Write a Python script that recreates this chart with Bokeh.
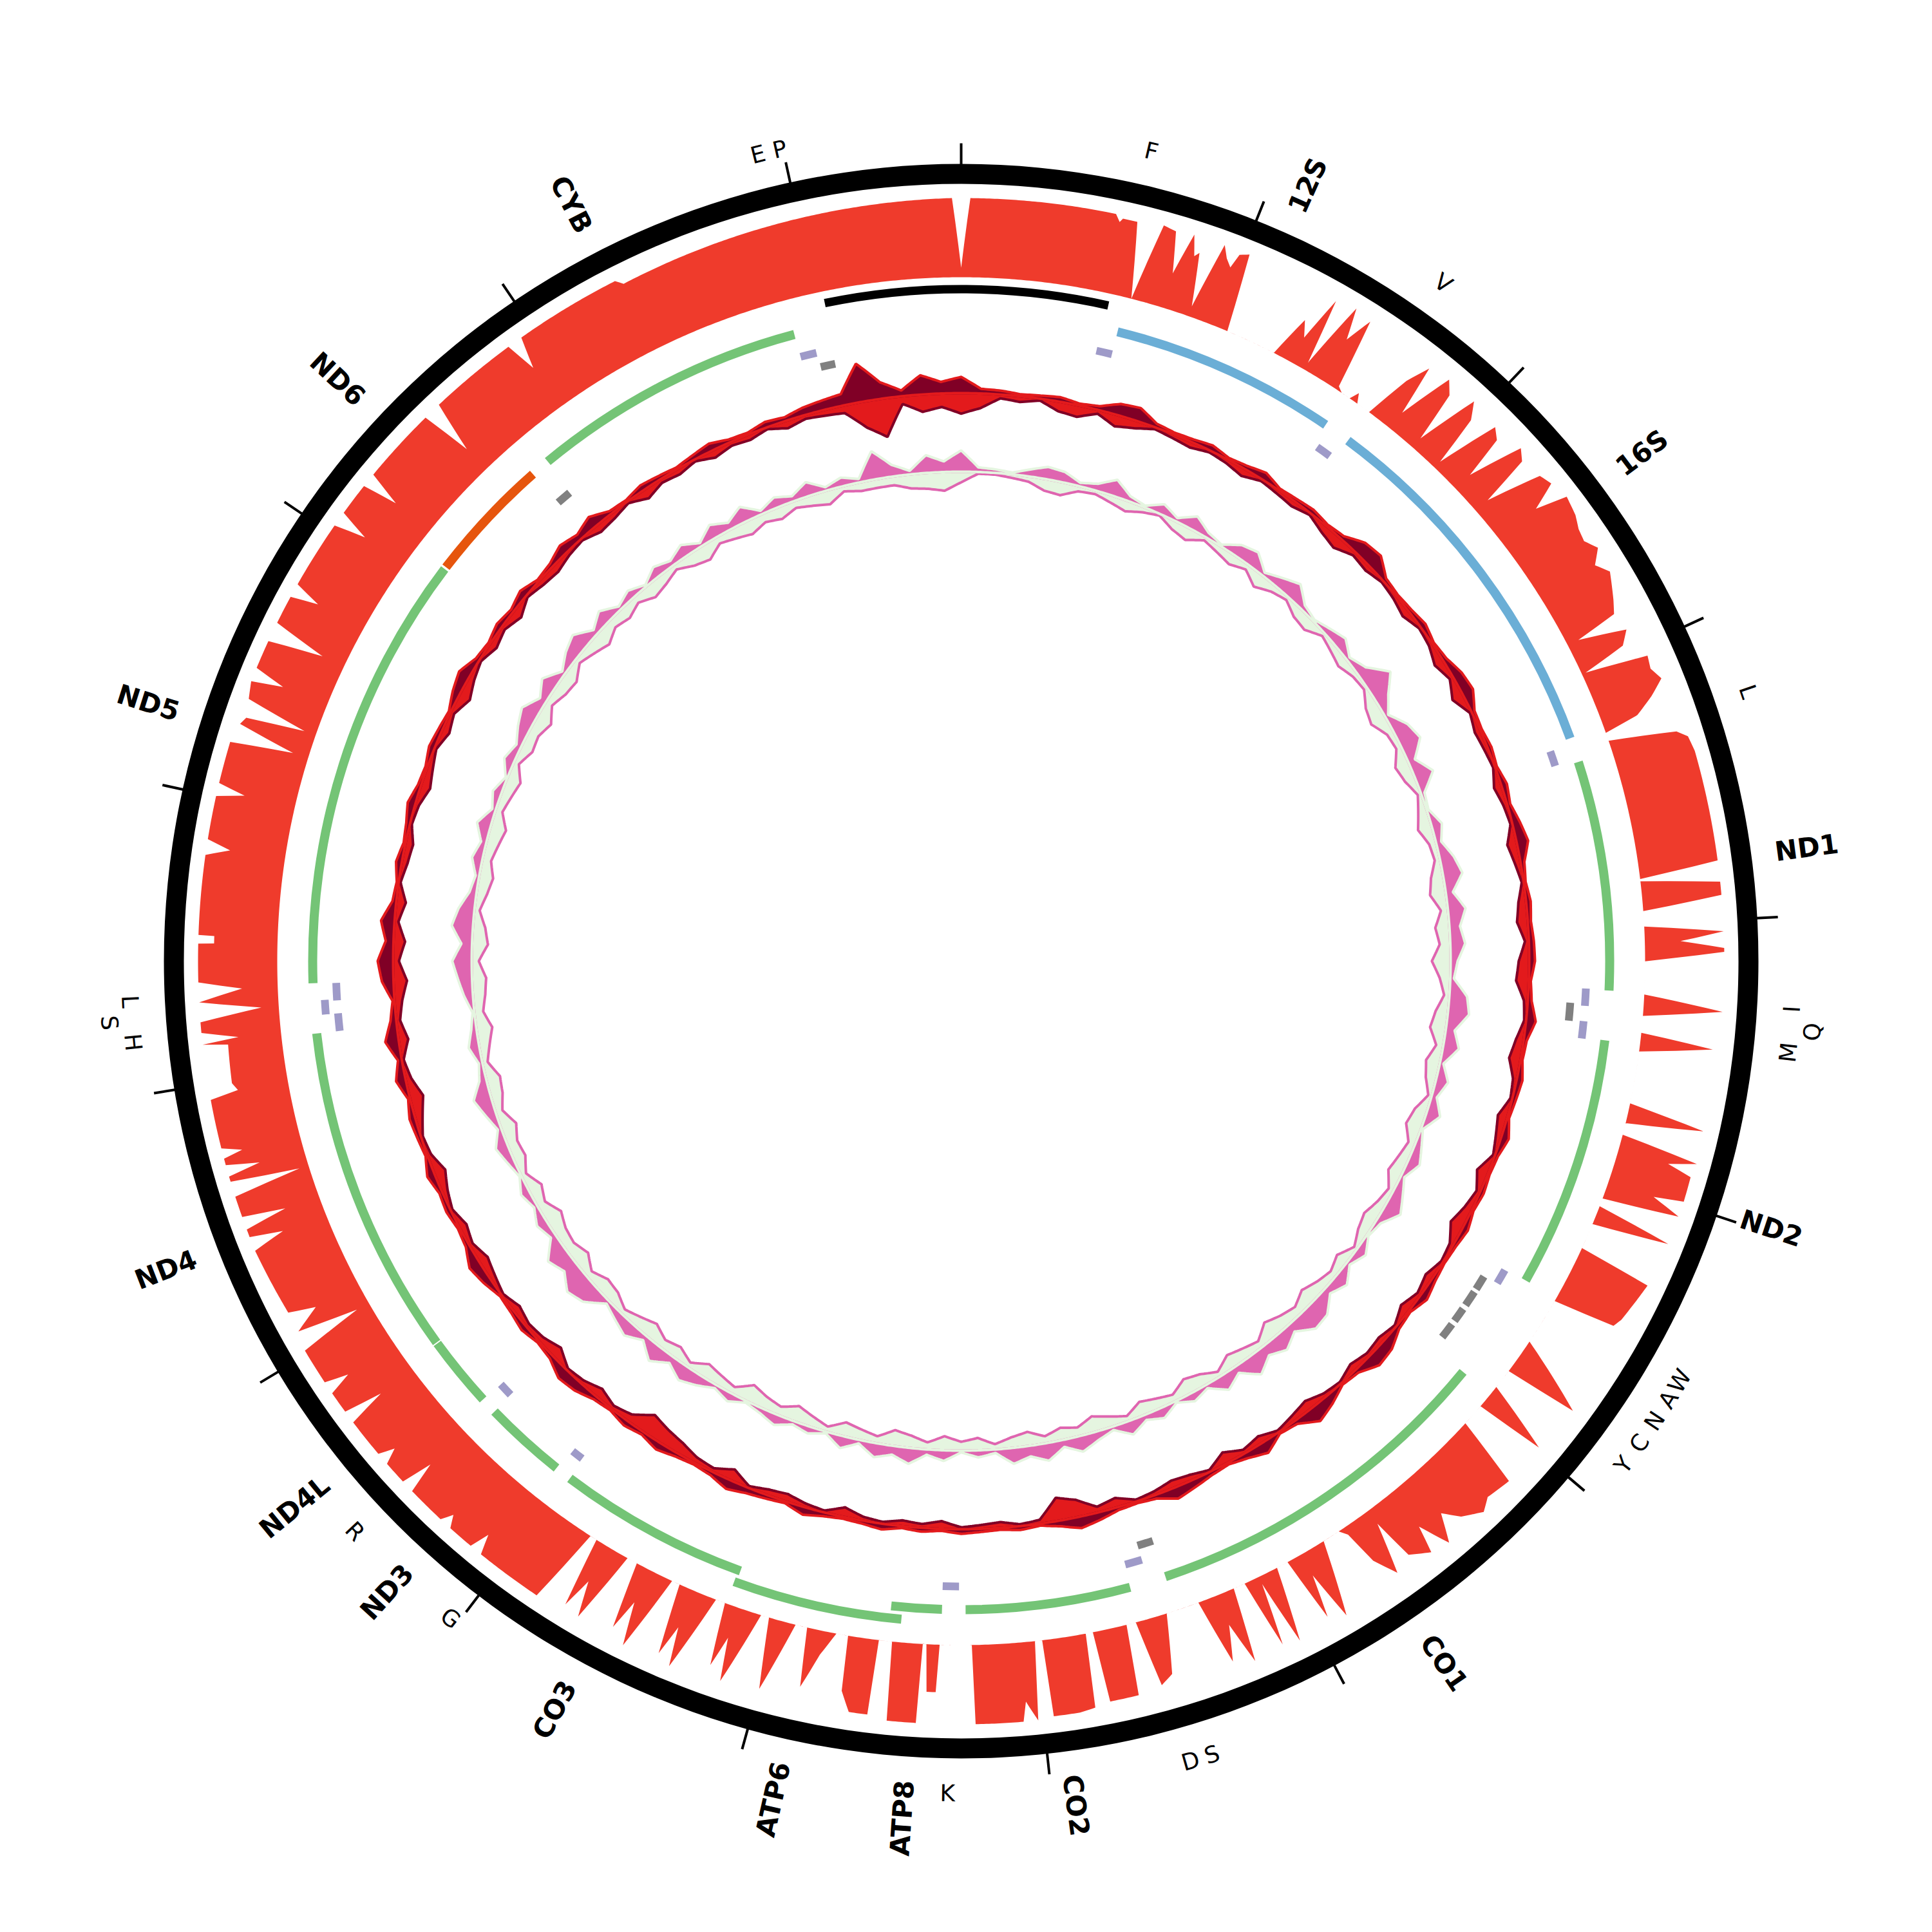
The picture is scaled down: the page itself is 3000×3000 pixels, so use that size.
import math
from bokeh.plotting import figure
from bokeh.models import Range1d, ColumnDataSource
from bokeh.embed import file_html
from bokeh.resources import INLINE
from bokeh.core.properties import value

# ---------------- data ----------------
GENOME_LEN = 16570
TICK_STEP = 1000

cr_start, cr_end = 16031, 582   # control region (wraps through 0)

gene_names = ["12S", "16S", "ND1", "ND2", "CO1", "CO2", "ATP8", "ATP6", "CO3",
              "ND3", "ND4L", "ND4", "ND5", "ND6", "CYB"]
gene_start = [642, 1685, 3319, 4465, 5951, 7590, 8363, 8524, 9201,
              10062, 10471, 10770, 12338, 14149, 14747]
gene_end = [1574, 3217, 4262, 5500, 7440, 8267, 8570, 9210, 9993,
            10403, 10765, 12133, 14140, 14668, 15884]
gene_type = ["rRNA", "rRNA", "CDS", "CDS", "CDS", "CDS", "CDS", "CDS", "CDS",
             "CDS", "CDS", "CDS", "CDS", "CDS", "CDS"]
gene_strand = ["+", "+", "+", "+", "+", "+", "+", "+", "+",
               "+", "+", "+", "+", "-", "+"]
gene_level = [0, 0, 0, 0, 0, 0, 0, 1, 0, 0, 0, 0, 0, 0, 0]

trna_names = ["F", "V", "L2", "I", "Q", "M", "W", "A", "N", "C", "Y", "S2", "D",
              "K", "G", "R", "H", "S1", "L1", "E", "T", "P"]
trna_labels = ["F", "V", "L", "I", "Q", "M", "W", "A", "N", "C", "Y", "S", "D",
               "K", "G", "R", "H", "S", "L", "", "E", "P"]
trna_start = [575, 1597, 3240, 4258, 4322, 4396, 5505, 5574, 5652, 5740, 5822, 7443, 7512,
              8294, 10002, 10407, 12133, 12207, 12262, 14669, 15885, 15958]
trna_end = [642, 1662, 3305, 4331, 4400, 4469, 5569, 5638, 5721, 5804, 5892, 7512, 7585,
            8363, 10053, 10467, 12207, 12267, 12336, 14734, 15954, 16022]
trna_strand = ["+", "+", "+", "+", "-", "+", "+", "-", "-", "-", "-", "-", "+",
               "+", "+", "+", "+", "+", "+", "-", "+", "-"]
trna_level = [0, 0, 0, 0, 0, 0, 0, 0, 0, 0, 0, 0, 0,
              0, 0, 0, 0, 1, 0, 0, 0, 0]
trna_label_level = [0, 0, 0, 0, 1, 0, 0, 0, 0, 0, 0, 0, 0,
                    0, 0, 0, 0, 1, 0, 0, 0, 0]

# sequencing depth (relative, 0..1)
cov_pos = [0, 32, 506, 539, 557, 566, 617, 663, 709, 755, 787, 819, 842, 856, 893, 930, 953,
           976, 990, 1022, 1054, 1252, 1298, 1326, 1362, 1385, 1436, 1464, 1501, 1533, 1556,
           1593, 1611, 1629, 1685, 1726, 1763, 1786, 1841, 1878, 1901, 1956, 1993, 2016, 2071,
           2108, 2131, 2186, 2223, 2246, 2302, 2348, 2384, 2417, 2486, 2532, 2578, 2624, 2670,
           2716, 2762, 2808, 2854, 2877, 2923, 2969, 3001, 3038, 3084, 3130, 3176, 3222, 3245,
           3277, 3323, 3351, 3406, 3793, 3825, 3834, 3867, 3913, 3949, 4009, 4039, 4069, 4097,
           4110, 4143, 4271, 4318, 4354, 4419, 4451, 4492, 4695, 4737, 4773, 4819, 4852, 4879,
           4902, 4990, 5008, 5045, 5077, 5109, 5146, 5183, 5284, 5307, 5455, 5487, 5514, 5698,
           5814, 5837, 5915, 5988, 6011, 6099, 6145, 6237, 6283, 6352, 6398, 6444, 6490, 6513,
           6582, 6605, 6651, 6697, 6720, 6743, 6812, 6881, 6914, 6941, 6973, 7019, 7065, 7098,
           7125, 7158, 7204, 7236, 7273, 7309, 7351, 7480, 7526, 7572, 7604, 7641, 7659, 7761,
           7774, 7802, 7816, 7871, 7963, 7972, 8000, 8018, 8055, 8069, 8235, 8244, 8368, 8377,
           8410, 8419, 8433, 8442, 8543, 8552, 8603, 8612, 8677, 8713, 8723, 8769, 8815, 8861,
           8884, 8930, 8999, 9036, 9068, 9137, 9160, 9188, 9215, 9252, 9321, 9344, 9372, 9404,
           9436, 9496, 9528, 9556, 9588, 9629, 9680, 9712, 9740, 9768, 9795, 9841, 10080, 10103,
           10126, 10219, 10242, 10265, 10403, 10426, 10449, 10531, 10554, 10577, 10716, 10739,
           10762, 10840, 10863, 10886, 11015, 11048, 11084, 11130, 11158, 11401, 11429, 11452,
           11480, 11503, 11526, 11600, 11627, 11654, 11673, 11691, 11714, 11737, 11751, 11774,
           11945, 11963, 11990, 12129, 12138, 12152, 12179, 12216, 12253, 12285, 12327, 12354,
           12488, 12490, 12516, 12518, 12796, 12824, 12851, 13003, 13026, 13049, 13196, 13224,
           13266, 13293, 13316, 13358, 13418, 13441, 13468, 13569, 13602, 13639, 13740, 13763,
           13790, 14030, 14057, 14084, 14200, 14223, 14251, 14518, 14545, 14582, 14895, 14922,
           14950, 15328, 15351, 16538]
cov_val = [0.12, 1.0, 1.0, 1.0, 0.91, 0.96, 0.96, 0.0, 1.0, 0.97, 0.45, 1.0, 0.74, 0.8, 0.13,
           1.0, 0.85, 0.76, 0.95, 1.0, 0.0, 0.0, 0.55, 0.35, 0.95, 0.1, 1.0, 0.6, 0.95, 0.05,
           0.0, 0.0, 0.12, 0.0, 0.0, 0.6, 0.9, 0.25, 0.95, 0.8, 0.15, 0.95, 0.75, 0.1, 0.9,
           0.8, 0.25, 0.95, 0.85, 0.2, 0.9, 0.95, 0.6, 1.0, 0.95, 0.88, 0.85, 0.95, 0.8,
           0.92, 0.85, 0.78, 0.7, 0.15, 0.75, 0.62, 0.05, 0.85, 0.82, 0.9, 0.7, 0.45, 0.0,
           0.0, 0.85, 0.97, 1.0, 1.0, 0.0, 0.0, 1.0, 1.0, 0.0, 0.0, 1.0, 0.45, 1.0,
           1.0, 0.0, 0.0, 1.0, 0.0, 0.0, 0.92, 0.0, 0.0, 0.98, 0.0, 0.0, 1.0, 0.65,
           0.97, 0.98, 0.6, 0.98, 0.0, 0.0, 0.98, 0.0, 0.0, 0.95, 0.85, 0.8, 0.0, 0.0,
           0.95, 0.0, 0.0, 0.9, 0.0, 0.0, 0.9, 0.85, 0.95, 0.8, 0.6, 0.95, 0.55, 0.9,
           0.75, 0.2, 0.85, 0.55, 0.1, 0.0, 0.0, 0.95, 0.3, 0.85, 0.0, 0.0, 0.95, 0.1,
           0.9, 0.0, 0.0, 0.95, 0.4, 0.85, 0.0, 0.0, 0.75, 0.85, 0.0, 0.0, 0.9, 0.9,
           0.0, 0.0, 0.94, 0.97, 0.97, 0.0, 0.0, 1.0, 0.75, 1.0, 1.0, 0.0, 0.0, 0.6,
           0.6, 0.0, 0.0, 1.0, 1.0, 0.0, 0.0, 0.95, 0.95, 0.7, 0.0, 0.0, 0.3, 0.75,
           0.0, 0.0, 0.9, 0.0, 0.0, 0.95, 0.4, 0.8, 0.0, 0.0, 1.0, 0.5, 0.9, 0.0,
           0.0, 1.0, 0.45, 0.85, 0.0, 0.0, 0.95, 0.5, 0.9, 0.0, 0.0, 1.0, 1.0, 0.75,
           1.0, 1.0, 0.85, 1.0, 1.0, 0.6, 1.0, 1.0, 0.8, 1.0, 1.0, 0.5,
           1.0, 1.0, 0.7, 1.0, 1.0, 0.17, 0.95, 0.61, 0.95, 1.0, 0.58, 1.0,
           1.0, 0.45, 1.0, 1.0, 0.12, 1.0, 1.0, 0.58, 1.0, 1.0, 0.75, 1.0,
           1.0, 0.64, 0.7, 0.68, 1.0, 0.54, 1.0, 1.0, 0.22, 1.0, 0.45, 1.0,
           1.0, 0.8, 0.8, 1.0, 1.0, 0.7, 1.0, 1.0, 0.65, 1.0, 1.0, 0.2,
           0.95, 0.9, 0.15, 0.95, 1.0, 0.6, 1.0, 1.0, 0.3, 1.0, 1.0, 0.65,
           1.0, 1.0, 0.6, 1.0, 1.0, 0.55, 1.0, 1.0, 0.35, 1.0, 1.0, 0.6,
           1.0, 1.0, 0.92, 1.0]

# sliding-window composition tracks (180 windows, outward / inward deviation)
N_WIN = 180
win_pos = [round(i * GENOME_LEN / N_WIN) for i in range(N_WIN)]
gc_out = [0.42, 0.12, 0.1, 0.05, 0.08, 0.12, 0.05, 0.1, 0.3, 0.35, 0.1, 0.05, 0.08, 0.15, 0.05,
          0.1, 0.2, 0.05, 0.08, 0.12, 0.05, 0.1, 0.35, 0.4, 0.1, 0.05, 0.08, 0.15, 0.05, 0.1,
          0.25, 0.3, 0.08, 0.05, 0.1, 0.05, 0.15, 0.08, 0.2, 0.3, 0.1, 0.05, 0.12, 0.08, 0.13,
          0.15, 0.05, 0.1, 0.25, 0.08, 0.05, 0.15, 0.1, 0.05, 0.2, 0.08, 0.05, 0.1, 0.05, 0.15,
          0.08, 0.05, 0.1, 0.2, 0.05, 0.1, 0.3, 0.35, 0.1, 0.05, 0.25, 0.4, 0.1, 0.05, 0.3,
          0.15, 0.05, 0.1, 0.2, 0.3, 0.1, 0.05, 0.08, 0.2, 0.3, 0.15, 0.05, 0.1, 0.05, 0.08,
          0.12, 0.05, 0.1, 0.05, 0.15, 0.08, 0.05, 0.1, 0.2, 0.05, 0.1, 0.15, 0.25, 0.1, 0.05,
          0.1, 0.2, 0.08, 0.15, 0.05, 0.1, 0.25, 0.3, 0.1, 0.05, 0.15, 0.08, 0.05, 0.2, 0.3,
          0.1, 0.05, 0.12, 0.08, 0.2, 0.05, 0.1, 0.15, 0.05, 0.25, 0.1, 0.35, 0.15, 0.05, 0.3,
          0.4, 0.2, 0.35, 0.1, 0.05, 0.15, 0.05, 0.1, 0.2, 0.08, 0.05, 0.15, 0.1, 0.05, 0.2,
          0.3, 0.1, 0.05, 0.15, 0.08, 0.2, 0.05, 0.1, 0.25, 0.15, 0.3, 0.08, 0.05, 0.15, 0.1,
          0.05, 0.12, 0.2, 0.08, 0.05, 0.15, 0.1, 0.2, 0.25, 0.3, 1.0, 0.43, 0.15, 0.5, 0.3]
gc_in = [0.53, 0.38, 0.1, 0.15, 0.05, 0.25, 0.3, 0.1, 0.3, 0.2, 0.05, 0.1, 0.15, 0.05, 0.1,
         0.2, 0.05, 0.1, 0.15, 0.05, 0.2, 0.3, 0.1, 0.15, 0.05, 0.1, 0.2, 0.05, 0.1, 0.25,
         0.1, 0.3, 0.05, 0.15, 0.1, 0.05, 0.2, 0.1, 0.05, 0.25, 0.15, 0.05, 0.2, 0.28, 0.1,
         0.27, 0.33, 0.1, 0.05, 0.2, 0.3, 0.1, 0.05, 0.25, 0.15, 0.05, 0.3, 0.1, 0.2, 0.35,
         0.1, 0.05, 0.2, 0.1, 0.25, 0.05, 0.15, 0.1, 0.2, 0.05, 0.1, 0.25, 0.15, 0.05, 0.2,
         0.1, 0.3, 0.05, 0.15, 0.2, 0.1, 0.05, 0.25, 0.15, 0.45, 0.6, 0.1, 0.05, 0.15, 0.1,
         0.05, 0.2, 0.1, 0.15, 0.05, 0.1, 0.25, 0.05, 0.1, 0.2, 0.15, 0.05, 0.3, 0.1, 0.15,
         0.3, 0.4, 0.53, 0.2, 0.1, 0.25, 0.1, 0.05, 0.3, 0.15, 0.1, 0.2, 0.05, 0.15, 0.25,
         0.1, 0.2, 0.05, 0.15, 0.3, 0.1, 0.05, 0.2, 0.35, 0.15, 0.05, 0.25, 0.1, 0.2, 0.35,
         0.15, 0.3, 0.1, 0.25, 0.05, 0.15, 0.2, 0.05, 0.1, 0.25, 0.15, 0.05, 0.2, 0.1, 0.3,
         0.15, 0.05, 0.2, 0.1, 0.25, 0.05, 0.15, 0.2, 0.1, 0.05, 0.2, 0.15, 0.05, 0.25, 0.1,
         0.15, 0.05, 0.2, 0.1, 0.15, 0.05, 0.2, 0.1, 0.15, 0.2, 0.68, 1.0, 0.2, 0.45, 0.35]
sk_out = [0.6, 0.13, 0.1, 0.05, 0.2, 0.35, 0.3, 0.1, 0.2, 0.47, 0.15, 0.05, 0.3, 0.1, 0.4,
          0.15, 0.05, 0.35, 0.45, 0.1, 0.3, 0.5, 0.15, 0.05, 0.2, 0.35, 0.1, 0.3, 0.8, 0.4,
          0.1, 0.45, 0.6, 0.2, 0.55, 0.1, 0.05, 0.3, 0.15, 0.4, 0.55, 0.2, 0.5, 0.3, 0.42,
          0.2, 0.1, 0.5, 0.6, 0.25, 0.45, 0.1, 0.35, 0.15, 0.4, 0.05, 0.2, 0.35, 0.1, 0.3,
          0.5, 0.15, 0.05, 0.3, 0.1, 0.4, 0.2, 0.55, 0.6, 0.25, 0.5, 0.3, 0.6, 0.2, 0.45,
          0.1, 0.25, 0.05, 0.3, 0.15, 0.4, 0.1, 0.25, 0.45, 0.2, 0.5, 0.3, 0.45, 0.1, 0.2,
          0.05, 0.3, 0.15, 0.45, 0.25, 0.4, 0.1, 0.35, 0.05, 0.2, 0.1, 0.3, 0.15, 0.05, 0.25,
          0.1, 0.3, 0.45, 0.2, 0.5, 0.15, 0.4, 0.25, 0.1, 0.55, 0.7, 0.4, 0.6, 0.15, 0.3,
          0.1, 0.25, 0.05, 0.2, 0.35, 0.1, 0.3, 0.5, 0.2, 0.1, 0.3, 0.15, 0.05, 0.25, 0.4,
          0.55, 0.3, 0.6, 0.45, 0.2, 0.1, 0.3, 0.15, 0.4, 0.1, 0.25, 0.05, 0.3, 0.15, 0.35,
          0.5, 0.2, 0.45, 0.1, 0.35, 0.5, 0.15, 0.4, 0.1, 0.25, 0.05, 0.3, 0.15, 0.35, 0.1,
          0.4, 0.2, 0.45, 0.1, 0.3, 0.15, 0.4, 0.1, 0.25, 0.1, 0.8, 0.33, 0.1, 0.5, 0.3]
sk_in = [0.3, 0.05, 0.05, 0.1, 0.15, 0.33, 0.37, 0.15, 0.1, 0.2, 0.3, 0.15, 0.05, 0.25, 0.35,
         0.1, 0.2, 0.3, 0.15, 0.4, 0.2, 0.1, 0.3, 0.35, 0.1, 0.2, 0.3, 0.15, 0.1, 0.35,
         0.45, 0.2, 0.15, 0.4, 0.3, 0.1, 0.25, 0.4, 0.2, 0.15, 0.35, 0.45, 0.2, 0.4, 0.3,
         0.53, 0.3, 0.15, 0.35, 0.45, 0.2, 0.4, 0.3, 0.1, 0.35, 0.45, 0.2, 0.3, 0.4, 0.15,
         0.25, 0.4, 0.3, 0.1, 0.35, 0.2, 0.3, 0.45, 0.25, 0.35, 0.5, 0.2, 0.3, 0.4, 0.15,
         0.35, 0.45, 0.2, 0.3, 0.4, 0.15, 0.3, 0.45, 0.25, 0.35, 0.2, 0.4, 0.3, 0.15, 0.35,
         0.25, 0.4, 0.2, 0.35, 0.45, 0.2, 0.3, 0.4, 0.15, 0.3, 0.45, 0.25, 0.35, 0.5, 0.2,
         0.3, 0.4, 0.15, 0.35, 0.25, 0.45, 0.3, 0.15, 0.35, 0.4, 0.2, 0.45, 0.3, 0.35, 0.5,
         0.25, 0.4, 0.15, 0.35, 0.3, 0.45, 0.2, 0.35, 0.4, 0.15, 0.3, 0.45, 0.25, 0.35, 0.4,
         0.2, 0.45, 0.35, 0.15, 0.3, 0.4, 0.25, 0.35, 0.45, 0.2, 0.3, 0.4, 0.15, 0.35, 0.3,
         0.45, 0.2, 0.35, 0.4, 0.15, 0.3, 0.45, 0.25, 0.35, 0.2, 0.4, 0.3, 0.15, 0.35, 0.45,
         0.2, 0.3, 0.4, 0.25, 0.35, 0.2, 0.3, 0.4, 0.15, 0.25, 0.25, 0.25, 0.4, 0.45, 0.53]

# ---------------- geometry / style ----------------
SIZE = 2984
R_RING_IN, R_RING_OUT, R_TICK_OUT = 1207, 1238, 1270
R_COV, H_COV = 1062, 123
R_CR_IN, R_CR_OUT = 1037, 1050
R_GENE, W_GENE, D_LEVEL = 1000, 14, 19
R_TRNA_PLUS, R_TRNA_MINUS, W_TRNA = 965, 942, 12
R_GC, H_GC = 882, 60
R_SK, H_SK = 760, 55
R_LABEL, R_TLABEL, D_TLABEL = 1275, 1292, 34

C_COV = "#ef3b2c"
C_RRNA, C_PLUS, C_MINUS = "#6baed6", "#74c476", "#e6550d"
C_TPLUS, C_TMINUS = "#9e9ac8", "#808080"
C_DARK, C_RED = "#800026", "#e31a1c"
C_PINK, C_LGREEN = "#df65b0", "#e5f5e0"


def theta(pos):
    return 2 * math.pi * pos / GENOME_LEN


def pxy(pos, r):
    a = theta(pos)
    return r * math.sin(a), r * math.cos(a)


def circle_path(r, n=1440):
    xs, ys = [], []
    for i in range(n):
        a = 2 * math.pi * i / n
        xs.append(r * math.sin(a))
        ys.append(r * math.cos(a))
    return xs, ys


def track_path(pos, vals, r0, h, sign=1.0, step_deg=0.2):
    pts = sorted(zip(pos, vals))
    n = len(pts)
    xs, ys = [], []
    for i in range(n):
        p0, v0 = pts[i]
        p1, v1 = pts[(i + 1) % n]
        if i == n - 1:
            p1 += GENOME_LEN
        nsub = max(1, int((p1 - p0) / GENOME_LEN * 360 / step_deg))
        for k in range(nsub):
            t = k / nsub
            x, y = pxy(p0 + (p1 - p0) * t, r0 + sign * h * (v0 + (v1 - v0) * t))
            xs.append(x)
            ys.append(y)
    return xs, ys


def wedge_angles(s, e):
    # clockwise genome interval -> bokeh anticlockwise angles
    return math.pi / 2 - theta(e), math.pi / 2 - theta(s)


p = figure(width=SIZE, height=SIZE, x_range=Range1d(-SIZE / 2, SIZE / 2),
           y_range=Range1d(-SIZE / 2, SIZE / 2), output_backend="svg",
           toolbar_location=None, x_axis_location=None, y_axis_location=None,
           min_border=0)
p.grid.visible = False
p.outline_line_color = None
p.background_fill_color = "white"
p.border_fill_color = "white"

# coverage track
ox, oy = track_path(cov_pos, cov_val, R_COV, H_COV)
hx, hy = circle_path(R_COV)
p.multi_polygons(xs=[[[ox, hx[::-1]]]], ys=[[[oy, hy[::-1]]]],
                 fill_color=C_COV, line_color=None)

# outer ring and ticks
p.annulus(x=0, y=0, inner_radius=R_RING_IN, outer_radius=R_RING_OUT,
          fill_color="black", line_color=None)
tick_pos = list(range(0, GENOME_LEN, TICK_STEP))
t0 = [pxy(t, R_RING_OUT - 2) for t in tick_pos]
t1 = [pxy(t, R_TICK_OUT) for t in tick_pos]
p.segment(x0=[a[0] for a in t0], y0=[a[1] for a in t0],
          x1=[a[0] for a in t1], y1=[a[1] for a in t1],
          line_color="black", line_width=4)

# control region
sa, ea = wedge_angles(cr_start, cr_end)
p.annular_wedge(x=0, y=0, inner_radius=R_CR_IN, outer_radius=R_CR_OUT,
                start_angle=sa, end_angle=ea, direction="anticlock",
                fill_color="black", line_color=None)

# genes
g_sa, g_ea, g_in, g_out, g_col = [], [], [], [], []
for s, e, t, st, lv in zip(gene_start, gene_end, gene_type, gene_strand, gene_level):
    a1, a2 = wedge_angles(s, e)
    g_sa.append(a1)
    g_ea.append(a2)
    g_in.append(R_GENE + lv * D_LEVEL)
    g_out.append(R_GENE + lv * D_LEVEL + W_GENE)
    g_col.append(C_RRNA if t == "rRNA" else (C_PLUS if st == "+" else C_MINUS))
p.annular_wedge(x=0, y=0, inner_radius="ri", outer_radius="ro", start_angle="sa",
                end_angle="ea", direction="anticlock", fill_color="c", line_color=None,
                source=ColumnDataSource(dict(ri=g_in, ro=g_out, sa=g_sa, ea=g_ea, c=g_col)))

# tRNAs
t_sa, t_ea, t_in, t_out, t_col = [], [], [], [], []
for s, e, st, lv in zip(trna_start, trna_end, trna_strand, trna_level):
    a1, a2 = wedge_angles(s, e)
    base = (R_TRNA_PLUS if st == "+" else R_TRNA_MINUS) + lv * D_LEVEL
    t_sa.append(a1)
    t_ea.append(a2)
    t_in.append(base)
    t_out.append(base + W_TRNA)
    t_col.append(C_TPLUS if st == "+" else C_TMINUS)
p.annular_wedge(x=0, y=0, inner_radius="ri", outer_radius="ro", start_angle="sa",
                end_angle="ea", direction="anticlock", fill_color="c", line_color=None,
                source=ColumnDataSource(dict(ri=t_in, ro=t_out, sa=t_sa, ea=t_ea, c=t_col)))

# composition tracks
for r0, h, vin, vout, c_in, c_out in [(R_GC, H_GC, gc_in, gc_out, C_RED, C_DARK),
                                       (R_SK, H_SK, sk_in, sk_out, C_LGREEN, C_PINK)]:
    bx, by = circle_path(r0)
    ix, iy = track_path(win_pos, vin, r0, h, sign=-1.0)
    p.multi_polygons(xs=[[[bx, ix[::-1]]]], ys=[[[by, iy[::-1]]]],
                     fill_color=c_in, line_color=c_out, line_width=4)
    ux, uy = track_path(win_pos, vout, r0, h, sign=1.0)
    p.multi_polygons(xs=[[[ux, bx[::-1]]]], ys=[[[uy, by[::-1]]]],
                     fill_color=c_out, line_color=c_in, line_width=4)

# gene labels (radial)
for right in (True, False):
    lx, ly, lt, la = [], [], [], []
    for name, s, e in zip(gene_names, gene_start, gene_end):
        mid = (s + e) / 2
        a = theta(mid)
        if (a < math.pi) != right:
            continue
        x, y = pxy(mid, R_LABEL)
        lx.append(x)
        ly.append(y)
        lt.append(name)
        la.append(math.pi / 2 - a if right else 3 * math.pi / 2 - a)
    p.text(x="x", y="y", text="t", angle="a", source=ColumnDataSource(dict(x=lx, y=ly, t=lt, a=la)),
           text_align="left" if right else "right", text_baseline="middle",
           text_font=value("DejaVu Sans"), text_font_style="bold",
           text_font_size="42px", text_color="black")

# tRNA labels (tangential)
lx, ly, lt, la = [], [], [], []
for lab, s, e, lv in zip(trna_labels, trna_start, trna_end, trna_label_level):
    if not lab:
        continue
    mid = (s + e) / 2
    a = theta(mid)
    x, y = pxy(mid, R_TLABEL + lv * D_TLABEL)
    lx.append(x)
    ly.append(y)
    lt.append(lab)
    la.append(math.pi - a if math.pi / 2 < a < 3 * math.pi / 2 else -a)
p.text(x="x", y="y", text="t", angle="a", source=ColumnDataSource(dict(x=lx, y=ly, t=lt, a=la)),
       text_align="center", text_baseline="middle",
       text_font=value("DejaVu Sans"), text_font_size="36px", text_color="black")

open("out.html", "w").write(file_html(p, INLINE))
